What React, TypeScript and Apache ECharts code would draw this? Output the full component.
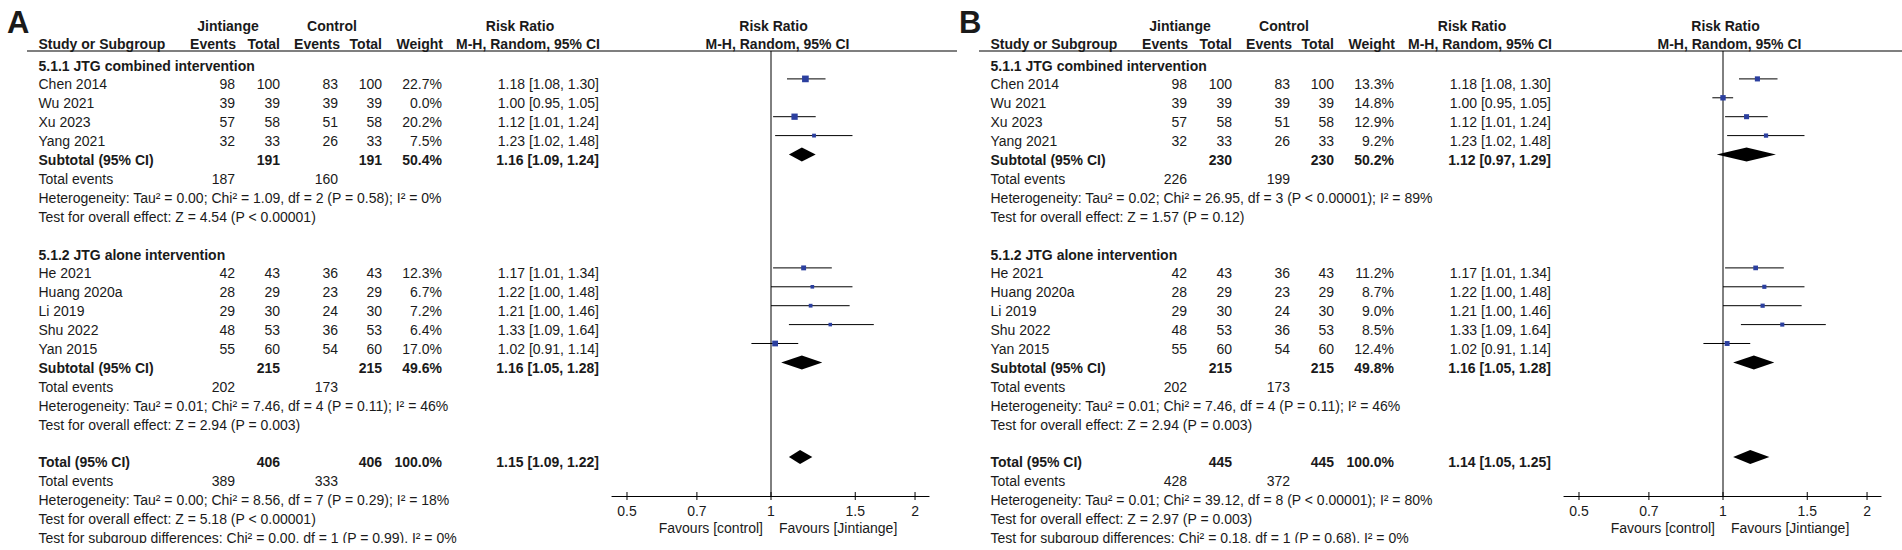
import React, { useEffect, useRef } from 'react';
import * as echarts from 'echarts';

const FONT_FAMILY = '"Liberation Sans", Arial, Helvetica, sans-serif';
const TEXT_COLOR = '#1a1a1a';
const SQUARE_COLOR = '#2b3f9f';

// ---------- study data (same raw counts in both panels)
const group1Names = ['Chen 2014', 'Wu 2021', 'Xu 2023', 'Yang 2021'];
const group1JEvents = [98, 39, 57, 32];
const group1JTotal = [100, 39, 58, 33];
const group1CEvents = [83, 39, 51, 26];
const group1CTotal = [100, 39, 58, 33];
const group1RR = [1.18, 1.0, 1.12, 1.23];
const group1Lower = [1.08, 0.95, 1.01, 1.02];
const group1Upper = [1.3, 1.05, 1.24, 1.48];

const group2Names = ['He 2021', 'Huang 2020a', 'Li 2019', 'Shu 2022', 'Yan 2015'];
const group2JEvents = [42, 28, 29, 48, 55];
const group2JTotal = [43, 29, 30, 53, 60];
const group2CEvents = [36, 23, 24, 36, 54];
const group2CTotal = [43, 29, 30, 53, 60];
const group2RR = [1.17, 1.22, 1.21, 1.33, 1.02];
const group2Lower = [1.01, 1.0, 1.0, 1.09, 0.91];
const group2Upper = [1.34, 1.48, 1.46, 1.64, 1.14];

const groupTitles = ['5.1.1 JTG combined intervention', '5.1.2 JTG alone intervention'];

// ---------- panel A
const weightsA1 = [22.7, 0.0, 20.2, 7.5];
const weightsA2 = [12.3, 6.7, 7.2, 6.4, 17.0];
const subtotalNA = [191, 215];
const subtotalWeightA = ['50.4%', '49.6%'];
const subtotalRRA = [1.16, 1.16];
const subtotalLowerA = [1.09, 1.05];
const subtotalUpperA = [1.24, 1.28];
const subtotalEventsJA = [187, 202];
const subtotalEventsCA = [160, 173];
const totalA = [406, 406];
const totalPooledA = [1.15, 1.09, 1.22];
const totalEventsA = [389, 333];
const heterogeneityA = [
  'Tau² = 0.00; Chi² = 1.09, df = 2 (P = 0.58); I² = 0%',
  'Tau² = 0.01; Chi² = 7.46, df = 4 (P = 0.11); I² = 46%',
  'Tau² = 0.00; Chi² = 8.56, df = 7 (P = 0.29); I² = 18%',
];
const overallEffectA = ['Z = 4.54 (P < 0.00001)', 'Z = 2.94 (P = 0.003)', 'Z = 5.18 (P < 0.00001)'];
const subgroupDiffA = 'Chi² = 0.00, df = 1 (P = 0.99), I² = 0%';

// ---------- panel B
const weightsB1 = [13.3, 14.8, 12.9, 9.2];
const weightsB2 = [11.2, 8.7, 9.0, 8.5, 12.4];
const subtotalNB = [230, 215];
const subtotalWeightB = ['50.2%', '49.8%'];
const subtotalRRB = [1.12, 1.16];
const subtotalLowerB = [0.97, 1.05];
const subtotalUpperB = [1.29, 1.28];
const subtotalEventsJB = [226, 202];
const subtotalEventsCB = [199, 173];
const totalB = [445, 445];
const totalPooledB = [1.14, 1.05, 1.25];
const totalEventsB = [428, 372];
const heterogeneityB = [
  'Tau² = 0.02; Chi² = 26.95, df = 3 (P < 0.00001); I² = 89%',
  'Tau² = 0.01; Chi² = 7.46, df = 4 (P = 0.11); I² = 46%',
  'Tau² = 0.01; Chi² = 39.12, df = 8 (P < 0.00001); I² = 80%',
];
const overallEffectB = ['Z = 1.57 (P = 0.12)', 'Z = 2.94 (P = 0.003)', 'Z = 2.97 (P = 0.003)'];
const subgroupDiffB = 'Chi² = 0.18, df = 1 (P = 0.68), I² = 0%';

// ---------- axis
const tickValues = [0.5, 0.7, 1, 1.5, 2];
const axisMin = 0.4652;
const axisMax = 2.139;

// ---------- layout
const PANEL_OFFSETS = [0, 952];
const ROW_H = 18.9;
const textY = (r: number) => 65.5 + ROW_H * r;
const COL = { study: 38.5, jEv: 235, jTot: 280, cEv: 338, cTot: 382, wt: 442, rr: 599 };
const GRID = { left: 612, top: 51, width: 317, height: 445 };
const Y_MIN = -0.476;
const Y_MAX = Y_MIN + GRID.height / ROW_H;
const SQUARE_SCALE = 1.4;
const IMAGE_CUT_Y = 543;

const fmtRR = (rr: number, lo: number, hi: number) => `${rr.toFixed(2)} [${lo.toFixed(2)}, ${hi.toFixed(2)}]`;

function T(x: number, y: number, s: string, align = 'left', bold = false, size = 14): any {
  return {
    type: 'text',
    silent: true,
    z: 10,
    style: {
      text: s,
      x,
      y,
      textAlign: align,
      align,
      textVerticalAlign: 'middle',
      verticalAlign: 'middle',
      font: `${bold ? 'bold ' : ''}${size}px ${FONT_FAMILY}`,
      fill: TEXT_COLOR,
    },
  };
}

const panels = [
  {
    letter: 'A', w1: weightsA1, w2: weightsA2, subN: subtotalNA, subW: subtotalWeightA,
    subRR: subtotalRRA, subLo: subtotalLowerA, subHi: subtotalUpperA, subEJ: subtotalEventsJA, subEC: subtotalEventsCA,
    tot: totalA, totPooled: totalPooledA, totEv: totalEventsA, het: heterogeneityA, eff: overallEffectA, diff: subgroupDiffA,
  },
  {
    letter: 'B', w1: weightsB1, w2: weightsB2, subN: subtotalNB, subW: subtotalWeightB,
    subRR: subtotalRRB, subLo: subtotalLowerB, subHi: subtotalUpperB, subEJ: subtotalEventsJB, subEC: subtotalEventsCB,
    tot: totalB, totPooled: totalPooledB, totEv: totalEventsB, het: heterogeneityB, eff: overallEffectB, diff: subgroupDiffB,
  },
];

const groups = [
  { names: group1Names, je: group1JEvents, jt: group1JTotal, ce: group1CEvents, ct: group1CTotal, rr: group1RR, lo: group1Lower, hi: group1Upper, startRow: 0 },
  { names: group2Names, je: group2JEvents, jt: group2JTotal, ce: group2CEvents, ct: group2CTotal, rr: group2RR, lo: group2Lower, hi: group2Upper, startRow: 10 },
];

function buildPanel(p: any, idx: number) {
  const off = PANEL_OFFSETS[idx];
  const g: any[] = [];
  const plotCenter = off + GRID.left + GRID.width / 2;
  g.push(T(off + 7, 22, p.letter, 'left', true, 31));
  g.push(T(off + 228, 26, 'Jintiange', 'center', true));
  g.push(T(off + 332, 26, 'Control', 'center', true));
  g.push(T(off + 520, 26, 'Risk Ratio', 'center', true));
  g.push(T(plotCenter + 3, 26, 'Risk Ratio', 'center', true));
  g.push(T(off + COL.study, 44, 'Study or Subgroup', 'left', true));
  g.push(T(off + 236, 44, 'Events', 'right', true));
  g.push(T(off + 280, 44, 'Total', 'right', true));
  g.push(T(off + 340, 44, 'Events', 'right', true));
  g.push(T(off + 382, 44, 'Total', 'right', true));
  g.push(T(off + 443, 44, 'Weight', 'right', true));
  g.push(T(off + 528, 44, 'M-H, Random, 95% CI', 'center', true));
  g.push(T(plotCenter + 7, 44, 'M-H, Random, 95% CI', 'center', true));
  g.push({
    type: 'line', silent: true,
    shape: { x1: off + 27, y1: 51, x2: off + 957, y2: 51 },
    style: { stroke: '#000', lineWidth: 1.2 },
  });

  const studyData: any[] = [];
  const diamondData: any[] = [];

  groups.forEach((gr, gi) => {
    const w = gi === 0 ? p.w1 : p.w2;
    const r0 = gr.startRow;
    g.push(T(off + COL.study, textY(r0), groupTitles[gi], 'left', true));
    gr.names.forEach((name: string, i: number) => {
      const r = r0 + 1 + i;
      const y = textY(r);
      g.push(T(off + COL.study, y, name));
      g.push(T(off + COL.jEv, y, String(gr.je[i]), 'right'));
      g.push(T(off + COL.jTot, y, String(gr.jt[i]), 'right'));
      g.push(T(off + COL.cEv, y, String(gr.ce[i]), 'right'));
      g.push(T(off + COL.cTot, y, String(gr.ct[i]), 'right'));
      g.push(T(off + COL.wt, y, `${w[i].toFixed(1)}%`, 'right'));
      g.push(T(off + COL.rr, y, fmtRR(gr.rr[i], gr.lo[i], gr.hi[i]), 'right'));
      if (w[i] > 0) studyData.push([gr.rr[i], gr.lo[i], gr.hi[i], r, w[i]]);
    });
    const rs = r0 + 1 + gr.names.length;
    const ys = textY(rs);
    g.push(T(off + COL.study, ys, 'Subtotal (95% CI)', 'left', true));
    g.push(T(off + COL.jTot, ys, String(p.subN[gi]), 'right', true));
    g.push(T(off + COL.cTot, ys, String(p.subN[gi]), 'right', true));
    g.push(T(off + COL.wt, ys, p.subW[gi], 'right', true));
    g.push(T(off + COL.rr, ys, fmtRR(p.subRR[gi], p.subLo[gi], p.subHi[gi]), 'right', true));
    diamondData.push([p.subRR[gi], p.subLo[gi], p.subHi[gi], rs]);
    g.push(T(off + COL.study, textY(rs + 1), 'Total events'));
    g.push(T(off + COL.jEv, textY(rs + 1), String(p.subEJ[gi]), 'right'));
    g.push(T(off + COL.cEv, textY(rs + 1), String(p.subEC[gi]), 'right'));
    g.push(T(off + COL.study, textY(rs + 2), 'Heterogeneity: ' + p.het[gi]));
    g.push(T(off + COL.study, textY(rs + 3), 'Test for overall effect: ' + p.eff[gi]));
  });

  const rt = 21;
  const yt = textY(rt);
  g.push(T(off + COL.study, yt, 'Total (95% CI)', 'left', true));
  g.push(T(off + COL.jTot, yt, String(p.tot[0]), 'right', true));
  g.push(T(off + COL.cTot, yt, String(p.tot[1]), 'right', true));
  g.push(T(off + COL.wt, yt, '100.0%', 'right', true));
  g.push(T(off + COL.rr, yt, fmtRR(p.totPooled[0], p.totPooled[1], p.totPooled[2]), 'right', true));
  diamondData.push([p.totPooled[0], p.totPooled[1], p.totPooled[2], rt]);
  g.push(T(off + COL.study, textY(rt + 1), 'Total events'));
  g.push(T(off + COL.jEv, textY(rt + 1), String(p.totEv[0]), 'right'));
  g.push(T(off + COL.cEv, textY(rt + 1), String(p.totEv[1]), 'right'));
  g.push(T(off + COL.study, textY(rt + 2), 'Heterogeneity: ' + p.het[2]));
  g.push(T(off + COL.study, textY(rt + 3), 'Test for overall effect: ' + p.eff[2]));
  g.push(T(off + COL.study, textY(rt + 4), 'Test for subgroup differences: ' + p.diff));

  return { graphics: g, studyData, diamondData };
}

const textStyle = (align: string) => ({
  textAlign: align,
  align,
  textVerticalAlign: 'middle',
  verticalAlign: 'middle',
  font: `14px ${FONT_FAMILY}`,
  fill: TEXT_COLOR,
});

const studyRender = (params: any, api: any) => {
  const row = api.value(3);
  const c = api.coord([api.value(0), row]);
  const l = api.coord([api.value(1), row]);
  const h = api.coord([api.value(2), row]);
  const s = SQUARE_SCALE * Math.sqrt(api.value(4));
  return {
    type: 'group',
    children: [
      { type: 'line', shape: { x1: l[0], y1: c[1], x2: h[0], y2: c[1] }, style: { stroke: '#000', lineWidth: 1 } },
      { type: 'rect', shape: { x: c[0] - s / 2, y: c[1] - s / 2, width: s, height: s }, style: { fill: SQUARE_COLOR } },
    ],
  };
};

const diamondRender = (params: any, api: any) => {
  const row = api.value(3);
  const c = api.coord([api.value(0), row]);
  const l = api.coord([api.value(1), row]);
  const h = api.coord([api.value(2), row]);
  const hh = 7;
  return {
    type: 'polygon',
    shape: { points: [[l[0], c[1]], [c[0], c[1] - hh], [h[0], c[1]], [c[0], c[1] + hh]] },
    style: { fill: '#000' },
  };
};

const refRender = (params: any, api: any) => {
  const cs = params.coordSys;
  const p = api.coord([api.value(0), api.value(1)]);
  const yb = cs.y + cs.height;
  return {
    type: 'group',
    children: [
      { type: 'line', shape: { x1: p[0], y1: cs.y, x2: p[0], y2: yb }, style: { stroke: '#000', lineWidth: 1 } },
      { type: 'text', style: { text: 'Favours [control]', x: p[0] - 8, y: yb + 32, ...textStyle('right') } },
      { type: 'text', style: { text: 'Favours [Jintiange]', x: p[0] + 8, y: yb + 32, ...textStyle('left') } },
    ],
  };
};

const tickRender = (params: any, api: any) => {
  const cs = params.coordSys;
  const p = api.coord([api.value(0), 0]);
  const yb = cs.y + cs.height;
  return {
    type: 'group',
    children: [
      { type: 'line', shape: { x1: p[0], y1: yb - 4, x2: p[0], y2: yb + 4 }, style: { stroke: '#000', lineWidth: 1 } },
      { type: 'text', style: { text: String(tickValues[params.dataIndex]), x: p[0], y: yb + 15, ...textStyle('center') } },
    ],
  };
};

export default function App() {
  const ref = useRef<HTMLDivElement>(null);
  useEffect(() => {
    if (!ref.current) return;
    const chart = echarts.init(ref.current, null, { renderer: 'svg' });
    const built = panels.map((p, i) => buildPanel(p, i));
    const grids: any[] = [];
    const xAxes: any[] = [];
    const yAxes: any[] = [];
    const series: any[] = [];
    built.forEach((b, i) => {
      grids.push({ left: PANEL_OFFSETS[i] + GRID.left, top: GRID.top, width: GRID.width, height: GRID.height, containLabel: false });
      xAxes.push({
        type: 'log', gridIndex: i, min: axisMin, max: axisMax,
        axisLine: { show: true, onZero: false, lineStyle: { color: '#000', width: 1.2 } },
        axisTick: { show: false }, axisLabel: { show: false }, splitLine: { show: false },
      });
      yAxes.push({
        type: 'value', gridIndex: i, inverse: true, min: Y_MIN, max: Y_MAX, show: false,
        splitLine: { show: false },
      });
      series.push({ type: 'custom', xAxisIndex: i, yAxisIndex: i, silent: true, renderItem: refRender, data: [[1, 0]], encode: { x: 0, y: 1 }, clip: false });
      series.push({ type: 'custom', xAxisIndex: i, yAxisIndex: i, silent: true, renderItem: tickRender, data: tickValues.map((v) => [v, 0]), encode: { x: 0, y: 1 }, clip: false });
      series.push({ type: 'custom', xAxisIndex: i, yAxisIndex: i, silent: true, renderItem: studyRender, data: b.studyData, encode: { x: [0, 1, 2], y: 3 }, clip: false });
      series.push({ type: 'custom', xAxisIndex: i, yAxisIndex: i, silent: true, renderItem: diamondRender, data: b.diamondData, encode: { x: [0, 1, 2], y: 3 }, clip: false });
    });
    const graphics = built.flatMap((b) => b.graphics);
    // the source picture is cropped just below the last text line
    graphics.push({
      type: 'rect', silent: true, z: 100,
      shape: { x: 0, y: IMAGE_CUT_Y, width: 1902, height: 550 - IMAGE_CUT_Y },
      style: { fill: '#ffffff' },
    });
    chart.setOption({
      animation: false,
      backgroundColor: '#ffffff',
      grid: grids,
      xAxis: xAxes,
      yAxis: yAxes,
      series,
      graphic: { elements: graphics },
    });
    return () => chart.dispose();
  }, []);
  return (
    <div
      ref={ref}
      style={{ position: 'absolute', left: 0, top: 0, width: 1902, height: 550, background: '#fff' }}
    />
  );
}
